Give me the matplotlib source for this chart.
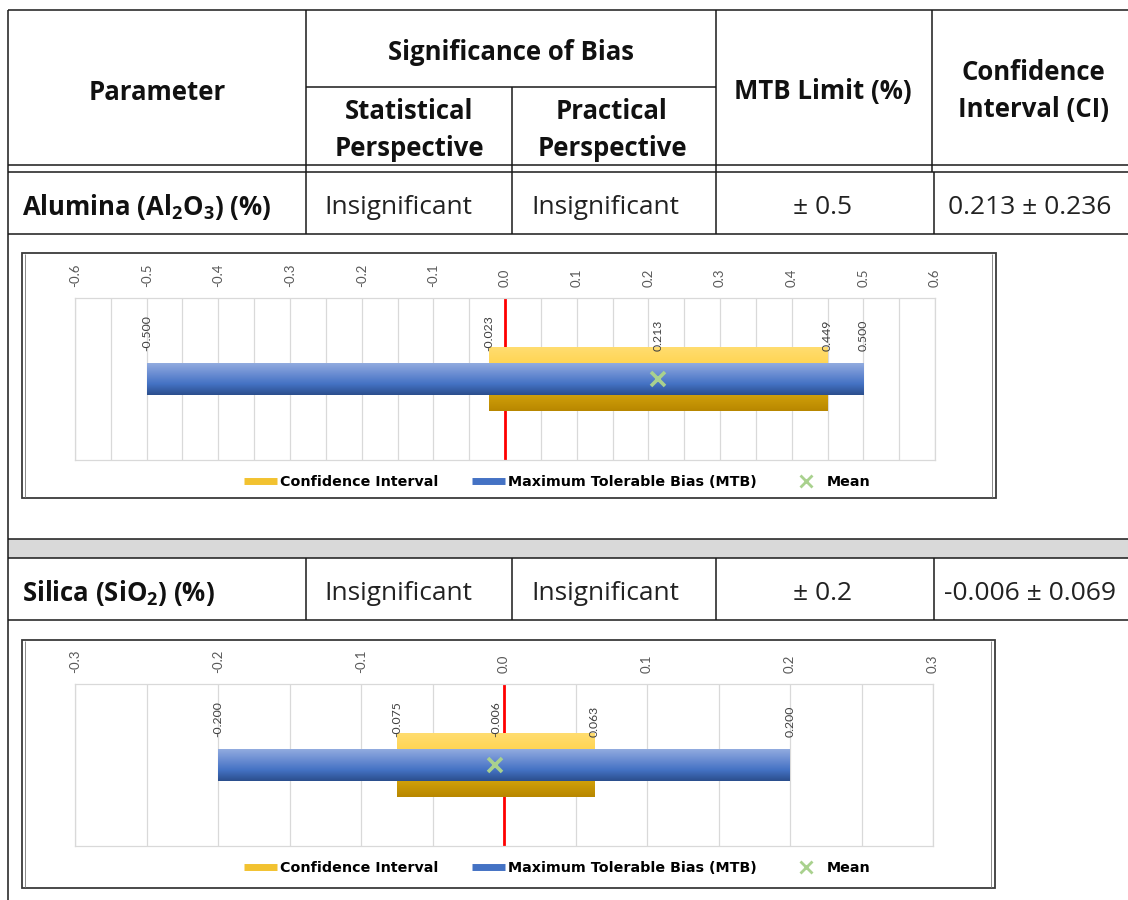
import numpy as np
import matplotlib
matplotlib.use('Agg')
import matplotlib.pyplot as plt
from matplotlib.colors import LinearSegmentedColormap
from matplotlib.lines import Line2D
from matplotlib.patches import Rectangle

plt.rcParams['font.family'] = ['Open Sans', 'DejaVu Sans']
plt.rcParams['mathtext.fontset'] = 'custom'
plt.rcParams['mathtext.rm'] = 'Open Sans'
plt.rcParams['mathtext.bf'] = 'Open Sans:bold'

# ---------------- data ----------------
params = [r'Alumina (Al$_{\mathbf{2}}$O$_{\mathbf{3}}$) (%)', r'Silica (SiO$_{\mathbf{2}}$) (%)']
stat_sig = ['Insignificant', 'Insignificant']
prac_sig = ['Insignificant', 'Insignificant']
mtb_limit = [0.5, 0.2]
ci_mean = [0.213, -0.006]
ci_half = [0.236, 0.069]
ci_low = [-0.023, -0.075]
ci_high = [0.449, 0.063]
axis_limit = [0.6, 0.3]
legend_labels = ['Confidence Interval', 'Maximum Tolerable Bias (MTB)', 'Mean']

# ---------------- figure ----------------
W, H = 1128, 900
fig = plt.figure(figsize=(W / 100, H / 100), dpi=100)
bg = fig.add_axes([0, 0, 1, 1])
bg.set_xlim(0, W)
bg.set_ylim(H, 0)
bg.axis('off')

LC = '#1a1a1a'
LW = 1.1


def hl(y, x0, x1, c=LC, lw=LW):
    bg.plot([x0, x1], [y, y], color=c, lw=lw, solid_capstyle='butt')


def vl(x, y0, y1, c=LC, lw=LW):
    bg.plot([x, x], [y0, y1], color=c, lw=lw, solid_capstyle='butt')


# header
hl(10, 8, W)
vl(8, 10, H)
for x in (306, 716, 932):
    vl(x, 10, 172)
vl(512, 87, 172)
hl(87, 306, 716)
hl(165, 8, W)
hl(172, 8, W)

HF = dict(fontsize=18.5, fontweight='bold', color='#111111', ha='center', va='center')
bg.text(157, 92, 'Parameter', **HF)
bg.text(511, 52, 'Significance of Bias', **HF)
bg.text(409, 130, 'Statistical\nPerspective', linespacing=1.45, **HF)
bg.text(612, 130, 'Practical\nPerspective', linespacing=1.45, **HF)
bg.text(823, 92, 'MTB Limit (%)', **HF)
bg.text(1033, 91, 'Confidence\nInterval (CI)', linespacing=1.45, **HF)

# data rows
row_top = [172, 558]
row_bot = [234, 620]
col_x = [306, 512, 716, 934]
for i in range(2):
    for x in col_x:
        vl(x, row_top[i], row_bot[i])
    hl(row_bot[i], 8, W)
    yc = (row_top[i] + row_bot[i]) / 2 + 4
    bg.text(22, yc, params[i], fontsize=18.5, fontweight='bold', color='#111111', ha='left', va='center')
    RF = dict(fontsize=19, color='#222222', ha='center', va='center')
    bg.text(398, yc, stat_sig[i], **RF)
    bg.text(605, yc, prac_sig[i], **RF)
    bg.text(823, yc, f'\u00b1 {mtb_limit[i]}', **RF)
    bg.text(1030, yc, f'{ci_mean[i]:.3f} \u00b1 {ci_half[i]:.3f}', **RF)

# gray separator row
bg.add_patch(Rectangle((8, 539), W - 8, 19, facecolor='#D9D9D9', edgecolor='none', zorder=0))
hl(539, 8, W)
hl(558, 8, W)

# ---------------- charts ----------------
plot_px = [(75, 298, 935, 460), (75, 684, 933, 846)]
box_px = [(22, 253, 996, 498), (22, 640, 995, 888)]
legend_y = [482, 868]

ci_cmap = LinearSegmentedColormap.from_list('ci', ['#B88700', '#D9A80C', '#FFD24A', '#FFDD70'])
mtb_cmap = LinearSegmentedColormap.from_list('mtb', ['#2B4E8C', '#4472C4', '#6D8FD3', '#95AEE0'])


def grad_fill(ax, patch, cmap):
    x0, y0 = patch.get_x(), patch.get_y()
    w, h = patch.get_width(), patch.get_height()
    img = np.linspace(0, 1, 128).reshape(-1, 1)
    im = ax.imshow(img, cmap=cmap, extent=[x0, x0 + w, y0, y0 + h], origin='lower',
                   aspect='auto', zorder=patch.get_zorder() + 0.01, interpolation='bilinear')
    im.set_clip_path(patch)


for i in range(2):
    bx0, by0, bx1, by1 = box_px[i]
    bg.add_patch(Rectangle((bx0, by0), bx1 - bx0, by1 - by0, fill=False, edgecolor='#3a3a3a', lw=1.3))
    vl(bx0 + 3, by0 + 1, by1 - 1, c='#8a8a8a', lw=0.7)
    vl(bx1 - 4, by0 + 1, by1 - 1, c='#8a8a8a', lw=0.7)

    px0, py0, px1, py1 = plot_px[i]
    ax = fig.add_axes([px0 / W, 1 - py1 / H, (px1 - px0) / W, (py1 - py0) / H])
    lim = axis_limit[i]
    mtb = mtb_limit[i]

    ax.axvline(0, color='#FF0000', lw=2, zorder=1.5)
    ci_bar = ax.barh([0], [ci_high[i] - ci_low[i]], left=[ci_low[i]], height=0.78,
                     color='#F2C230', zorder=2)[0]
    grad_fill(ax, ci_bar, ci_cmap)
    mtb_bar = ax.barh([0], [2 * mtb], left=[-mtb], height=0.40, color='#4472C4', zorder=3)[0]
    grad_fill(ax, mtb_bar, mtb_cmap)
    ax.plot([ci_mean[i]], [0], marker='x', color='#A9D18E', markersize=10, mew=2.6,
            linestyle='none', zorder=5)

    for v in (-mtb, ci_low[i], ci_mean[i], ci_high[i], mtb):
        ax.text(v, 0.34, f'{v:.3f}', rotation=90, ha='center', va='bottom', fontsize=8.8,
                color='#404040', zorder=6, family='Lato')

    ax.set_xlim(-lim, lim)
    ax.set_ylim(-1, 1)
    ax.set_xticks(np.round(np.arange(-lim, lim + 1e-9, 0.1), 2))
    ax.set_xticks(np.round(np.arange(-lim, lim + 1e-9, 0.05), 3), minor=True)
    ax.xaxis.set_major_formatter(matplotlib.ticker.FuncFormatter(lambda v, p: f'{round(v, 3) + 0.0:.1f}'))
    ax.xaxis.tick_top()
    ax.tick_params(axis='x', which='both', length=0, pad=8, labelsize=9.5,
                   labelcolor='#595959', labelrotation=90)
    for lab in ax.get_xticklabels():
        lab.set_family('Lato')
    ax.set_yticks([])
    ax.grid(True, axis='x', which='both', color='#D9D9D9', lw=0.9, zorder=0)
    ax.set_axisbelow(True)
    for s in ax.spines.values():
        s.set_color('#D9D9D9')
        s.set_linewidth(0.9)

    handles = [Line2D([], [], color='#F2C230', lw=5, solid_capstyle='butt'),
               Line2D([], [], color='#4472C4', lw=5, solid_capstyle='butt'),
               Line2D([], [], color='#A9D18E', marker='x', linestyle='none', markersize=8, mew=2)]
    ax.legend(handles, legend_labels, loc='center', ncol=3, frameon=False,
              bbox_to_anchor=(557 / W, 1 - legend_y[i] / H), bbox_transform=fig.transFigure,
              prop={'family': 'DejaVu Sans', 'weight': 'bold', 'size': 10.3},
              handlelength=2.3, handletextpad=0.25, columnspacing=2.3)

fig.savefig('out.png', dpi=100)
